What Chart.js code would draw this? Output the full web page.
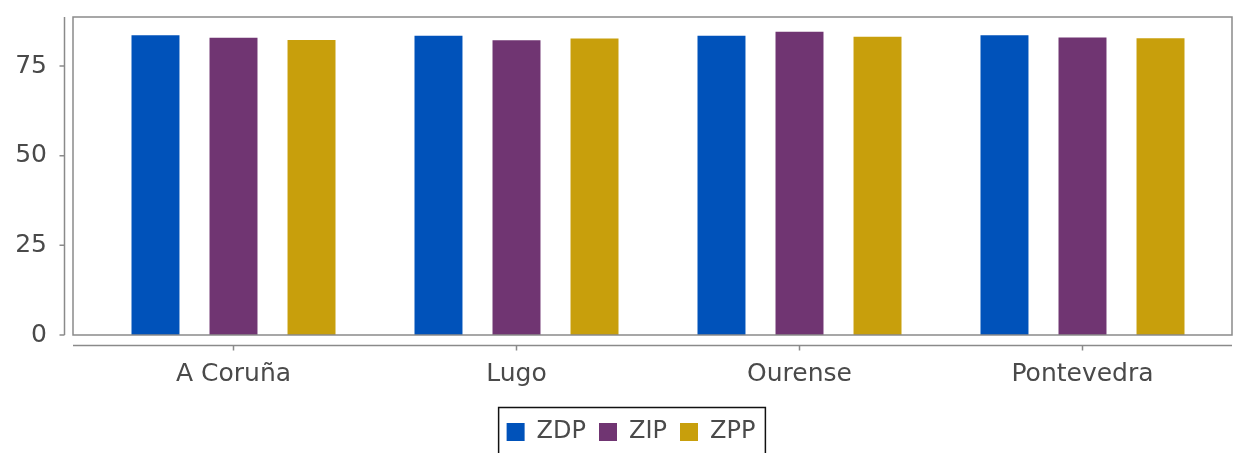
<!DOCTYPE html>
<html>
<head>
<meta charset="utf-8">
<script src="https://cdn.jsdelivr.net/npm/chart.js@4.4.1/dist/chart.umd.min.js"></script>
<style>
  html, body { margin: 0; padding: 0; background: #ffffff; }
  #wrap { width: 1234px; height: 453px; }
</style>
</head>
<body>
<div id="wrap"><canvas id="c" width="1234" height="453"></canvas></div>
<script>
// Provinces and the three index series
const provinces = ['A Coruña', 'Lugo', 'Ourense', 'Pontevedra'];
const zdp = [83.6, 83.5, 83.5, 83.6];
const zip = [82.9, 82.2, 84.6, 83.0];
const zpp = [82.3, 82.7, 83.2, 82.8];
const yTicks = [0, 25, 50, 75];

const seriesColors = { ZDP: '#0052ba', ZIP: '#703572', ZPP: '#c89f0c' };
const axisGrey = '#8a8a8a';
const textGrey = '#4a4a4a';

// Frame around the plot, detached axis lines and the legend border
const frames = {
  id: 'frames',
  afterLayout(chart) {
    // keep the legend centred a little right of the canvas middle
    if (chart.legend) chart.legend.left += 38;
  },
  afterDraw(chart) {
    const { ctx, chartArea: a, scales: { x, y } } = chart;
    ctx.save();
    ctx.strokeStyle = axisGrey;
    ctx.lineWidth = 1.5;
    const fl = a.left - 19, fr = a.right + 8;
    ctx.strokeRect(fl, a.top, fr - fl, a.bottom - a.top);

    // vertical value axis, offset to the left of the frame
    const ax = fl - 8.5;
    ctx.beginPath();
    ctx.moveTo(ax, a.top);
    ctx.lineTo(ax, a.bottom);
    yTicks.forEach(v => {
      const py = y.getPixelForValue(v);
      ctx.moveTo(ax, py);
      ctx.lineTo(ax - 5, py);
    });
    ctx.stroke();

    // category axis, offset below the frame
    const by = a.bottom + 10.5;
    ctx.beginPath();
    ctx.moveTo(fl, by);
    ctx.lineTo(fr, by);
    provinces.forEach((p, i) => {
      const px = x.getPixelForValue(i);
      ctx.moveTo(px, by);
      ctx.lineTo(px, by + 5);
    });
    ctx.stroke();

    // legend border
    const lg = chart.legend;
    if (lg && lg.legendHitBoxes.length) {
      const hb = lg.legendHitBoxes;
      const l = hb[0].left - 8;
      const r = hb[hb.length - 1].left + hb[hb.length - 1].width + 10;
      ctx.strokeStyle = '#111111';
      ctx.lineWidth = 1.5;
      ctx.strokeRect(l, lg.top + 0.5, r - l, 50);
    }
    ctx.restore();
  }
};

new Chart(document.getElementById('c'), {
  type: 'bar',
  data: {
    labels: provinces,
    datasets: [
      { label: 'ZDP', data: zdp, backgroundColor: seriesColors.ZDP },
      { label: 'ZIP', data: zip, backgroundColor: seriesColors.ZIP },
      { label: 'ZPP', data: zpp, backgroundColor: seriesColors.ZPP }
    ]
  },
  options: {
    responsive: false,
    animation: false,
    devicePixelRatio: 1,
    layout: { padding: { left: 0, right: 10, top: 17, bottom: -1 } },
    datasets: { bar: { categoryPercentage: 0.827, barPercentage: 0.615 } },
    plugins: {
      tooltip: { enabled: false },
      legend: {
        position: 'bottom',
        labels: {
          boxWidth: 18,
          boxHeight: 18,
          padding: 13,
          color: textGrey,
          font: { family: 'DejaVu Sans', size: 24 }
        }
      }
    },
    scales: {
      x: {
        grid: { display: false, drawTicks: false },
        border: { display: false },
        ticks: {
          color: textGrey,
          padding: 24,
          maxRotation: 0,
          font: { family: 'DejaVu Sans', size: 25 }
        },
        afterFit(s) { s.height = 72; }
      },
      y: {
        min: 0,
        max: 88.7,
        grid: { display: false, drawTicks: false },
        border: { display: false },
        afterBuildTicks(s) { s.ticks = yTicks.map(v => ({ value: v })); },
        ticks: {
          color: textGrey,
          padding: 45,
          font: { family: 'DejaVu Sans', size: 25 }
        },
        afterFit(s) { s.width = 92; s.paddingTop = 0; s.paddingBottom = 0; }
      }
    }
  },
  plugins: [frames]
});
</script>
</body>
</html>
